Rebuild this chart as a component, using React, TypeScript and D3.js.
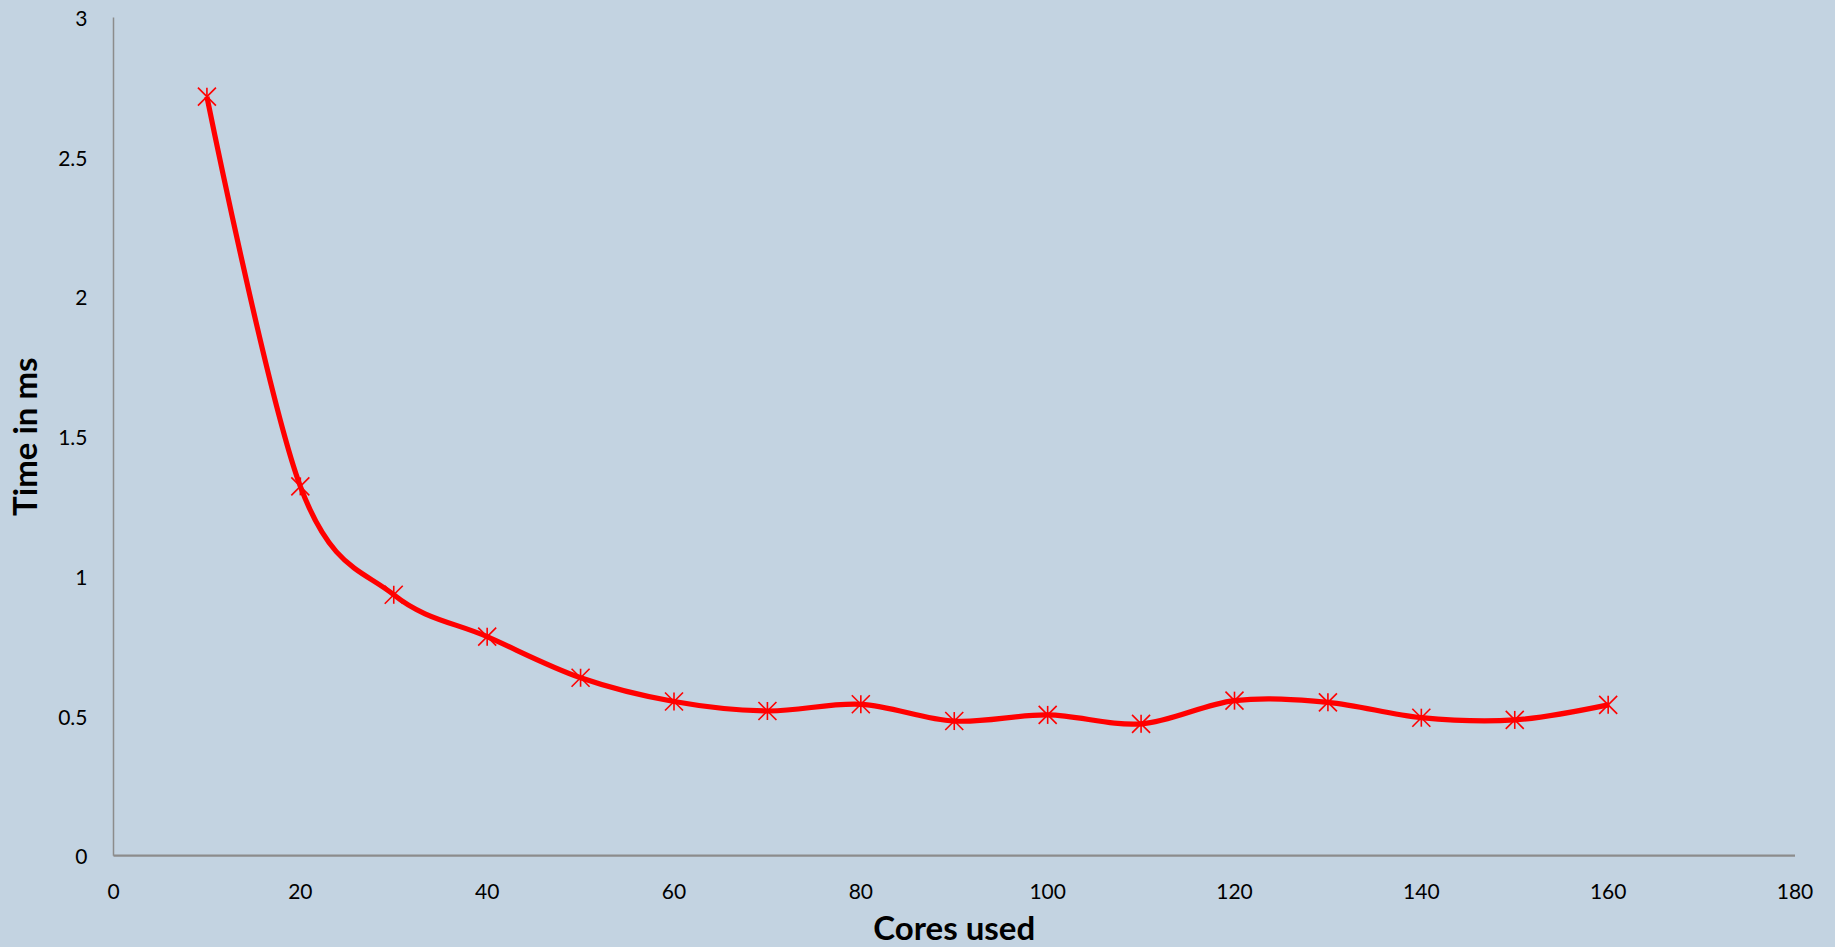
import React from "react";
import * as d3 from "d3";

const cores = [10, 20, 30, 40, 50, 60, 70, 80, 90, 100, 110, 120, 130, 140, 150, 160];
const timeMs = [2.717, 1.322, 0.934, 0.784, 0.637, 0.552, 0.518, 0.542, 0.482, 0.504, 0.472, 0.555, 0.549, 0.494, 0.486, 0.54];
const xTicks = [0, 20, 40, 60, 80, 100, 120, 140, 160, 180];
const yTicks = [0, 0.5, 1, 1.5, 2, 2.5, 3];
const xTitle = "Cores used";
const yTitle = "Time in ms";

const W = 1835;
const H = 947;
const left = 113.5;
const right = 1795;
const top = 17.6;
const bottom = 855.7;
const BG = "#C3D3E1";
const FONT = "Lato, 'Open Sans', 'Liberation Sans', sans-serif";

export default function App() {
  const x = d3.scaleLinear().domain([0, 180]).range([left, right]);
  const y = d3.scaleLinear().domain([0, 3]).range([bottom, top]);
  const pts: [number, number][] = cores.map((c, i) => [c, timeMs[i]]);
  const line = d3
    .line<[number, number]>()
    .x((d) => x(d[0]))
    .y((d) => y(d[1]))
    .curve(d3.curveCardinal.tension(0));
  const m = 9;
  return (
    <svg
      width={W}
      height={H}
      style={{ position: "absolute", left: 0, top: 0, display: "block" }}
    >
      <rect x={0} y={0} width={W} height={H} fill={BG} />
      <line x1={left} x2={left} y1={top} y2={bottom} stroke="#8c8c8c" strokeWidth={1.5} />
      <line x1={left} x2={right} y1={bottom} y2={bottom} stroke="#8c8c8c" strokeWidth={2.2} />
      {yTicks.map((t) => (
        <text
          key={"y" + t}
          x={87.5}
          y={y(t)}
          textAnchor="end"
          dominantBaseline="central"
          fontFamily={FONT}
          fontSize={21}
          fill="#000"
        >
          {String(t)}
        </text>
      ))}
      {xTicks.map((t) => (
        <text
          key={"x" + t}
          x={x(t)}
          y={899}
          textAnchor="middle"
          fontFamily={FONT}
          fontSize={21}
          fill="#000"
        >
          {String(t)}
        </text>
      ))}
      <text
        x={(left + right) / 2}
        y={940}
        textAnchor="middle"
        fontFamily={FONT}
        fontWeight="bold"
        fontSize={33}
        fill="#000"
      >
        {xTitle}
      </text>
      <text
        transform={`translate(36.5, ${(top + bottom) / 2}) rotate(-90)`}
        textAnchor="middle"
        fontFamily={FONT}
        fontWeight="bold"
        fontSize={33}
        fill="#000"
      >
        {yTitle}
      </text>
      <path d={line(pts) || ""} fill="none" stroke="#FF0000" strokeWidth={5.2} strokeLinejoin="round" />
      {pts.map((p, i) => {
        const cx = x(p[0]);
        const cy = y(p[1]);
        return (
          <g key={"m" + i} stroke="#FF0000" strokeWidth={1.6}>
            <line x1={cx - m} y1={cy - m} x2={cx + m} y2={cy + m} />
            <line x1={cx - m} y1={cy + m} x2={cx + m} y2={cy - m} />
            <line x1={cx} y1={cy - m} x2={cx} y2={cy + m} />
          </g>
        );
      })}
    </svg>
  );
}
